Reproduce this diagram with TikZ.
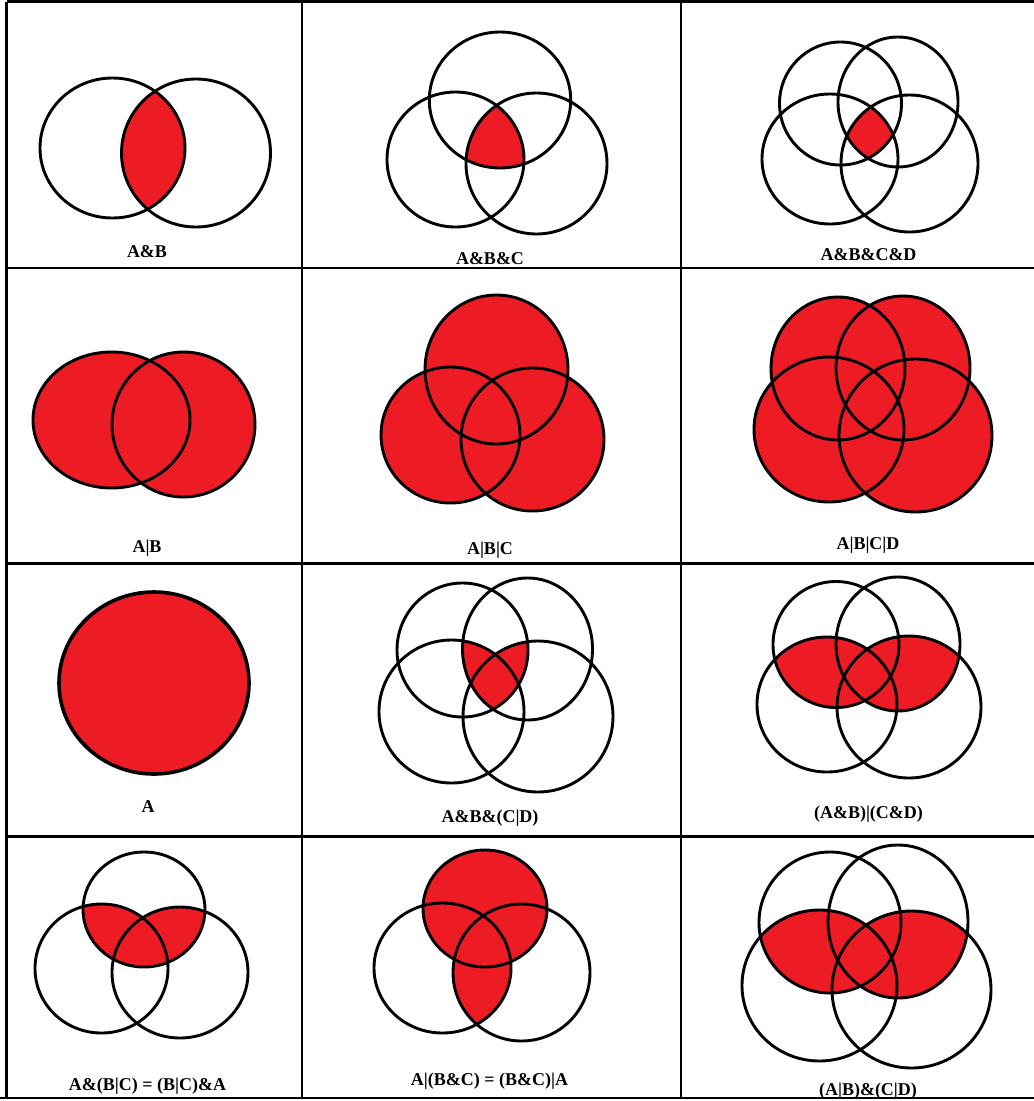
\documentclass[tikz,border=0pt]{standalone}
\usepackage{fontspec}
\setmainfont{Liberation Serif}
\definecolor{vennRed}{HTML}{ED1C24}
\newcommand\venn[3]{(#1) ellipse [x radius=#2, y radius=#3]}
\tikzset{
  ring/.style={draw=black, line width=2.9pt},
  ringThick/.style={draw=black, line width=3.6pt},
  paint/.style={fill=vennRed},
  gridLine/.style={draw=black, line width=2.9pt},
  caption/.style={font=\bfseries\fontsize{18}{20}\selectfont, anchor=base,
                  inner sep=0pt},
}

\begin{document}
\begin{tikzpicture}[x=1pt, y=-1pt]
  \useasboundingbox (0,0) rectangle (1034,1101);
  \fill[white] (0,0) rectangle (1034,1101);

  % ---- row 1 : intersections
  % A&B
  \def\vA{\venn{112.5,148}{72.5}{70}}
  \def\vB{\venn{196,153}{74.5}{74}}
  \begin{scope}
    \clip \vA; \fill[paint] \vB;
  \end{scope}
  \foreach \vv in {\vA,\vB} \draw[ring] \vv;
  \node[caption] (capAB) at (147,257) {A\&B};

  % A&B&C
  \def\vA{\venn{500,100}{70.7}{68}}
  \def\vB{\venn{455.5,159.5}{68.5}{67.5}}
  \def\vC{\venn{536.5,163.5}{70.5}{70.5}}
  \begin{scope}
    \clip \vA; \clip \vB; \fill[paint] \vC;
  \end{scope}
  \foreach \vv in {\vA,\vB,\vC} \draw[ring] \vv;
  \node[caption] (capABC) at (490,264) {A\&B\&C};

  % A&B&C&D
  \def\vA{\venn{840.5,103.5}{61}{61.5}}
  \def\vB{\venn{898,102}{60}{65}}
  \def\vC{\venn{830,159}{68}{65}}
  \def\vD{\venn{909.5,163.5}{68.5}{68.5}}
  \begin{scope}
    \clip \vA; \clip \vB; \clip \vC; \fill[paint] \vD;
  \end{scope}
  \foreach \vv in {\vA,\vB,\vC,\vD} \draw[ring] \vv;
  \node[caption] (capABCD) at (868.5,260) {A\&B\&C\&D};

  % ---- row 2 : unions
  \def\vA{\venn{111.5,420}{78.5}{68}}
  \def\vB{\venn{183.5,424.5}{71.5}{72.5}}
  \foreach \vv in {\vA,\vB} \fill[paint] \vv;
  \foreach \vv in {\vA,\vB} \draw[ring] \vv;
  \node[caption] (capAoB) at (147,552) {A|B};

  \def\vA{\venn{496.5,369.5}{71.5}{74.5}}
  \def\vB{\venn{450.5,435}{69.5}{68}}
  \def\vC{\venn{532.5,439.5}{71.5}{71.5}}
  \foreach \vv in {\vA,\vB,\vC} \fill[paint] \vv;
  \foreach \vv in {\vA,\vB,\vC} \draw[ring] \vv;
  \node[caption] (capAoBoC) at (490,554) {A|B|C};

  \def\vA{\venn{838,368.5}{67}{71.5}}
  \def\vB{\venn{903,368}{67}{72}}
  \def\vC{\venn{829,429.5}{75}{72.5}}
  \def\vD{\venn{915.5,435.5}{76.5}{76.5}}
  \foreach \vv in {\vA,\vB,\vC,\vD} \fill[paint] \vv;
  \foreach \vv in {\vA,\vB,\vC,\vD} \draw[ring] \vv;
  \node[caption] (capAoBoCoD) at (868,549) {A|B|C|D};

  % ---- row 3
  \draw[ringThick, paint] \venn{154,683}{95}{91};
  \node[caption] (capA) at (148,812) {A};

  % A&B&(C|D)
  \def\vA{\venn{462.5,650}{65.5}{67}}
  \def\vB{\venn{527.5,649}{65}{71}}
  \def\vC{\venn{451.5,711.5}{72.5}{71.5}}
  \def\vD{\venn{538,716.5}{75}{75.5}}
  \begin{scope}
    \clip \vA; \clip \vB; \fill[paint] \vC; \fill[paint] \vD;
  \end{scope}
  \foreach \vv in {\vA,\vB,\vC,\vD} \draw[ring] \vv;
  \node[caption] (capABCoD) at (490,822) {A\&B\&(C|D)};

  % (A&B)|(C&D)
  \def\vA{\venn{836,644.5}{63}{63}}
  \def\vB{\venn{898,644}{62}{67}}
  \def\vC{\venn{827,704.5}{70}{67.5}}
  \def\vD{\venn{909,707}{72}{71}}
  \begin{scope}
    \clip \vA; \fill[paint] \vC;
  \end{scope}
  \begin{scope}
    \clip \vB; \fill[paint] \vD;
  \end{scope}
  \foreach \vv in {\vA,\vB,\vC,\vD} \draw[ring] \vv;
  \node[caption] (capABoCD) at (868.5,818) {(A\&B)|(C\&D)};

  % ---- row 4
  % A&(B|C)
  \def\vA{\venn{144,909.5}{61}{57.5}}
  \def\vB{\venn{101.5,968.5}{66.5}{64.5}}
  \def\vC{\venn{180,972.5}{68}{65.5}}
  \begin{scope}
    \clip \vA; \fill[paint] \vB; \fill[paint] \vC;
  \end{scope}
  \foreach \vv in {\vA,\vB,\vC} \draw[ring] \vv;
  \node[caption] (capAndOr) at (147.5,1090.5) {A\&(B|C) = (B|C)\&A};

  % A|(B&C)
  \def\vA{\venn{485,908.5}{62}{58.5}}
  \def\vB{\venn{442.5,968}{68.5}{65}}
  \def\vC{\venn{521.5,972.5}{68.5}{68.5}}
  \fill[paint] \vA;
  \begin{scope}
    \clip \vB; \fill[paint] \vC;
  \end{scope}
  \foreach \vv in {\vA,\vB,\vC} \draw[ring] \vv;
  \node[caption] (capOrAnd) at (489.5,1085) {A|(B\&C) = (B\&C)|A};

  % (A|B)&(C|D)
  \def\vA{\venn{830,922.5}{71}{70.5}}
  \def\vB{\venn{898,921.5}{70}{76.5}}
  \def\vC{\venn{819.5,985.5}{77.5}{75.5}}
  \def\vD{\venn{911.5,989.5}{79.5}{78.5}}
  \begin{scope}
    \clip \vA; \fill[paint] \vC;
  \end{scope}
  \begin{scope}
    \clip \vB; \fill[paint] \vD;
  \end{scope}
  \foreach \vv in {\vA,\vB,\vC,\vD} \draw[ring] \vv;
  \node[caption] (capOrOr) at (868,1095) {(A|B)\&(C|D)};

  % ---- table rules
  \foreach \yy in {1.5,268,563.5,836.5} \draw[gridLine] (6.5,\yy) -- (1034,\yy);
  \draw[gridLine] (0,1098) -- (1034,1098);
  \foreach \xx in {6.5,302,681} \draw[gridLine] (\xx,1.5) -- (\xx,1098);
\end{tikzpicture}
\end{document}
